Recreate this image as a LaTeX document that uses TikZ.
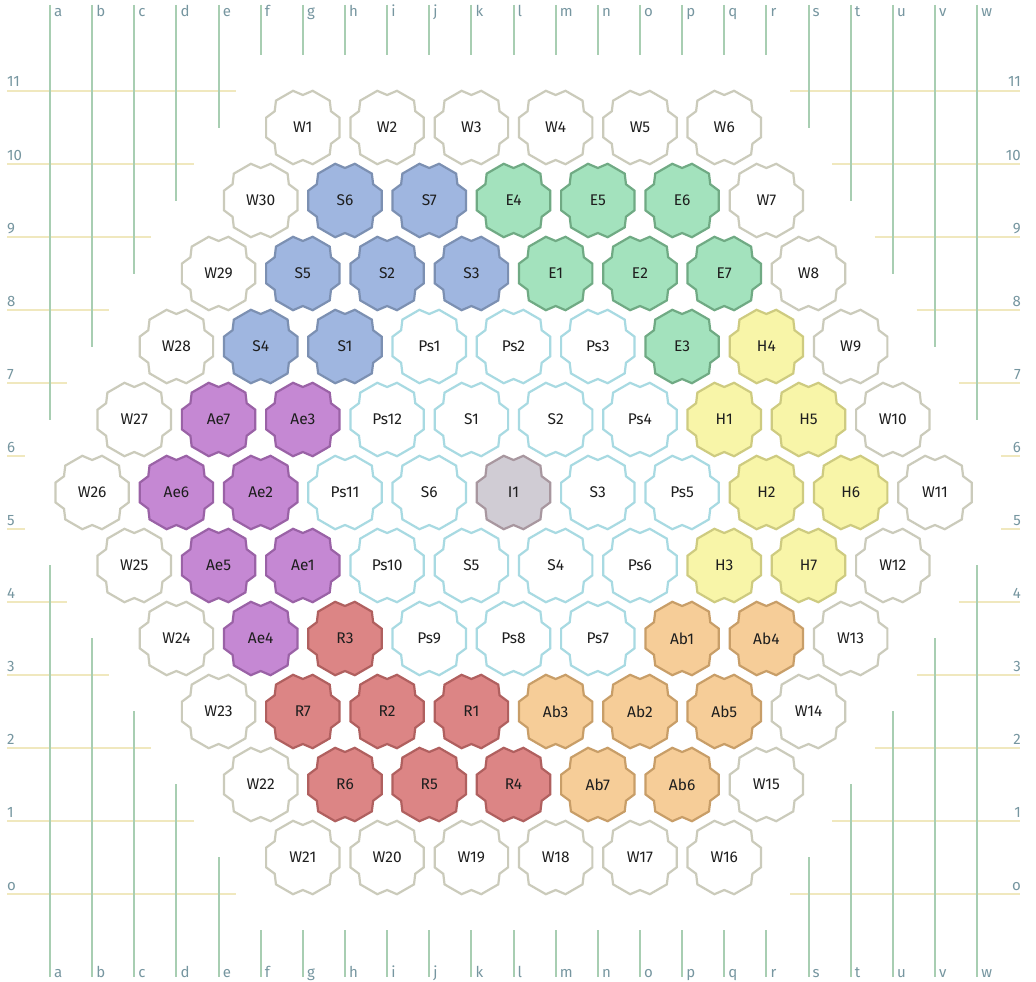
\documentclass[tikz,border=0pt]{standalone}
\usepackage{fontspec}
\setmainfont{Fira Sans}
\definecolor{vline}{RGB}{168,206,178}
\definecolor{hline}{RGB}{240,232,190}
\definecolor{glabel}{RGB}{118,150,160}
\definecolor{ttext}{RGB}{30,30,30}
\definecolor{wline}{RGB}{203,203,187}
\definecolor{cline}{RGB}{168,218,226}
\definecolor{bfill}{RGB}{159,182,224}\definecolor{bline}{RGB}{124,144,178}
\definecolor{gfill}{RGB}{163,226,189}\definecolor{gline}{RGB}{112,170,132}
\definecolor{yfill}{RGB}{248,245,168}\definecolor{yline}{RGB}{206,203,128}
\definecolor{ofill}{RGB}{246,205,152}\definecolor{oline}{RGB}{200,158,104}
\definecolor{rfill}{RGB}{220,133,133}\definecolor{rline}{RGB}{176,96,95}
\definecolor{pfill}{RGB}{197,136,211}\definecolor{pline}{RGB}{154,98,166}
\definecolor{ifill}{RGB}{208,204,212}\definecolor{iline}{RGB}{168,151,159}
\newcommand\hextile[4]{%
  \pgfmathsetmacro\hx{50+42.14*#2}%
  \pgfmathsetmacro\hy{127.5+73*(#3-1)}%
  \pic[#1] at (\hx,\hy) {tileshape};
  \node[tiletext] (#1-#4) at (\hx,\hy) {#4};
}
\begin{document}
\begin{tikzpicture}[x=1pt,y=-1pt,
  tileshape/.pic={\path[pic actions] (15:38) -- (30:32.5) -- (45:38) -- (75:38) -- (90:32.5) -- (105:38) -- (135:38) -- (150:32.5) -- (165:38) -- (195:38) -- (210:32.5) -- (225:38) -- (255:38) -- (270:32.5) -- (285:38) -- (315:38) -- (330:32.5) -- (345:38) -- cycle;},
  tbase/.style={line width=2.2pt, line join=miter},
  wt/.style={tbase, draw=wline, fill=white},
  ct/.style={tbase, draw=cline, fill=white},
  bt/.style={tbase, draw=bline, fill=bfill},
  gt/.style={tbase, draw=gline, fill=gfill},
  yt/.style={tbase, draw=yline, fill=yfill},
  ot/.style={tbase, draw=oline, fill=ofill},
  rt/.style={tbase, draw=rline, fill=rfill},
  pt/.style={tbase, draw=pline, fill=pfill},
  it/.style={tbase, draw=iline, fill=ifill},
  tiletext/.style={text=ttext, font=\fontsize{15.5}{17}\selectfont, inner sep=0pt},
  glab/.style={text=glabel, font=\fontsize{15}{17}\selectfont, inner sep=0pt},
  vgrid/.style={draw=vline, line width=2pt},
  hgrid/.style={draw=hline, line width=2pt}]
\useasboundingbox (0,0) rectangle (1036,982);
\fill[white] (0,0) rectangle (1036,982);
% horizontal grid lines
\foreach \L in {0,...,11}{
  \pgfmathsetmacro\gy{91+73*(11-\L)}
  \pgfmathsetmacro\xl{\L>=6 ? 25+42.14*(\L-6) : 25+42.14*(5-\L)}
  \pgfmathsetmacro\xr{\L>=6 ? 1001-42.14*(\L-6) : 1001-42.14*(5-\L)}
  \draw[hgrid] (7,\gy) -- (\xl,\gy);
  \draw[hgrid] (\xr,\gy) -- (1020,\gy);
  \node[glab, anchor=base west] (rl\L) at (7,\gy-4) {\ifnum\L=0 o\else\L\fi};
  \node[glab, anchor=base east] (rr\L) at (1021,\gy-4) {\ifnum\L=0 o\else\L\fi};
}
% vertical grid lines
\foreach \l [count=\i from 0] in {a,b,c,d,e,f,g,h,i,j,k,l,m,n,o,p,q,r,s,t,u,v,w}{
  \pgfmathsetmacro\gx{50+42.14*\i}
  \pgfmathsetmacro\yt{\i<=5 ? 420-73*\i : (\i<=17 ? 55 : 55+73*(\i-17))}
  \pgfmathsetmacro\yb{\i<=5 ? 565+73*\i : (\i<=17 ? 930 : 930-73*(\i-17))}
  \draw[vgrid] (\gx,5) -- (\gx,\yt);
  \draw[vgrid] (\gx,\yb) -- (\gx,977);
  \node[glab, anchor=base west] (ct\l) at (\gx+4,17) {\l};
  \node[glab, anchor=base west] (cb\l) at (\gx+4,977) {\l};
}
% row 1
\hextile{wt}{6}{1}{W1}\hextile{wt}{8}{1}{W2}\hextile{wt}{10}{1}{W3}
\hextile{wt}{12}{1}{W4}\hextile{wt}{14}{1}{W5}\hextile{wt}{16}{1}{W6}
% row 2
\hextile{wt}{5}{2}{W30}\hextile{bt}{7}{2}{S6}\hextile{bt}{9}{2}{S7}
\hextile{gt}{11}{2}{E4}\hextile{gt}{13}{2}{E5}\hextile{gt}{15}{2}{E6}\hextile{wt}{17}{2}{W7}
% row 3
\hextile{wt}{4}{3}{W29}\hextile{bt}{6}{3}{S5}\hextile{bt}{8}{3}{S2}\hextile{bt}{10}{3}{S3}
\hextile{gt}{12}{3}{E1}\hextile{gt}{14}{3}{E2}\hextile{gt}{16}{3}{E7}\hextile{wt}{18}{3}{W8}
% row 4
\hextile{wt}{3}{4}{W28}\hextile{bt}{5}{4}{S4}\hextile{bt}{7}{4}{S1}\hextile{ct}{9}{4}{Ps1}
\hextile{ct}{11}{4}{Ps2}\hextile{ct}{13}{4}{Ps3}\hextile{gt}{15}{4}{E3}\hextile{yt}{17}{4}{H4}\hextile{wt}{19}{4}{W9}
% row 5
\hextile{wt}{2}{5}{W27}\hextile{pt}{4}{5}{Ae7}\hextile{pt}{6}{5}{Ae3}\hextile{ct}{8}{5}{Ps12}
\hextile{ct}{10}{5}{S1}\hextile{ct}{12}{5}{S2}\hextile{ct}{14}{5}{Ps4}\hextile{yt}{16}{5}{H1}
\hextile{yt}{18}{5}{H5}\hextile{wt}{20}{5}{W10}
% row 6
\hextile{wt}{1}{6}{W26}\hextile{pt}{3}{6}{Ae6}\hextile{pt}{5}{6}{Ae2}\hextile{ct}{7}{6}{Ps11}
\hextile{ct}{9}{6}{S6}\hextile{it}{11}{6}{I1}\hextile{ct}{13}{6}{S3}\hextile{ct}{15}{6}{Ps5}
\hextile{yt}{17}{6}{H2}\hextile{yt}{19}{6}{H6}\hextile{wt}{21}{6}{W11}
% row 7
\hextile{wt}{2}{7}{W25}\hextile{pt}{4}{7}{Ae5}\hextile{pt}{6}{7}{Ae1}\hextile{ct}{8}{7}{Ps10}
\hextile{ct}{10}{7}{S5}\hextile{ct}{12}{7}{S4}\hextile{ct}{14}{7}{Ps6}\hextile{yt}{16}{7}{H3}
\hextile{yt}{18}{7}{H7}\hextile{wt}{20}{7}{W12}
% row 8
\hextile{wt}{3}{8}{W24}\hextile{pt}{5}{8}{Ae4}\hextile{rt}{7}{8}{R3}\hextile{ct}{9}{8}{Ps9}
\hextile{ct}{11}{8}{Ps8}\hextile{ct}{13}{8}{Ps7}\hextile{ot}{15}{8}{Ab1}\hextile{ot}{17}{8}{Ab4}\hextile{wt}{19}{8}{W13}
% row 9
\hextile{wt}{4}{9}{W23}\hextile{rt}{6}{9}{R7}\hextile{rt}{8}{9}{R2}\hextile{rt}{10}{9}{R1}
\hextile{ot}{12}{9}{Ab3}\hextile{ot}{14}{9}{Ab2}\hextile{ot}{16}{9}{Ab5}\hextile{wt}{18}{9}{W14}
% row 10
\hextile{wt}{5}{10}{W22}\hextile{rt}{7}{10}{R6}\hextile{rt}{9}{10}{R5}
\hextile{rt}{11}{10}{R4}\hextile{ot}{13}{10}{Ab7}\hextile{ot}{15}{10}{Ab6}\hextile{wt}{17}{10}{W15}
% row 11
\hextile{wt}{6}{11}{W21}\hextile{wt}{8}{11}{W20}\hextile{wt}{10}{11}{W19}
\hextile{wt}{12}{11}{W18}\hextile{wt}{14}{11}{W17}\hextile{wt}{16}{11}{W16}
\end{tikzpicture}
\end{document}
